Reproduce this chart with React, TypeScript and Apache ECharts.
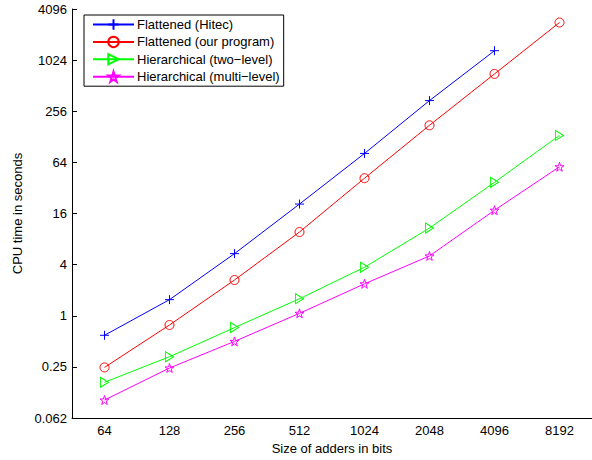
import React, { useEffect, useRef } from "react";
import * as echarts from "echarts";

const categories = ["64", "128", "256", "512", "1024", "2048", "4096", "8192"];
const hitec = [0.59, 1.55, 5.4, 20.7, 81.6, 342, 1323, null];
const ourProgram = [0.247, 0.78, 2.64, 9.7, 41.7, 175, 705, 2840];
const twoLevel = [0.165, 0.33, 0.727, 1.59, 3.73, 10.8, 37.3, 133];
const multiLevel = [0.102, 0.243, 0.5, 1.07, 2.38, 5.07, 17.5, 56.9];
const yTickLabels = ["0.062", "0.25", "1", "4", "16", "64", "256", "1024", "4096"];

const FONT = "Liberation Sans, Arial, Helvetica, sans-serif";
const FS = 13;
const PLUS = "path://M5,0 L5,10 M0,5 L10,5";
const TRI = "path://M0,0 L10,5 L0,10 Z";
const STAR =
  "path://M0,-100 L22.5,-30.9 L95.1,-30.9 L36.3,11.8 L58.8,80.9 L0,38.2 L-58.8,80.9 L-36.3,11.8 L-95.1,-30.9 L-22.5,-30.9 Z";

export default function App() {
  const ref = useRef<HTMLDivElement>(null);
  useEffect(() => {
    if (!ref.current) return;
    const chart = echarts.init(ref.current, null, { renderer: "svg" });
    const mk = (name: string, data: any[], color: string, symbol: string, size: any) => ({
      name,
      type: "line",
      data,
      symbol,
      symbolSize: size,
      showSymbol: true,
      lineStyle: { color, width: 1 },
      itemStyle: { color: "rgba(0,0,0,0)", borderColor: color, borderWidth: 1 },
      emphasis: { disabled: true },
    });
    chart.setOption({
      animation: false,
      backgroundColor: "#ffffff",
      textStyle: { fontFamily: FONT },
      grid: { left: 72, top: 9, right: 0, bottom: 40, containLabel: false },
      legend: {
        orient: "vertical",
        left: 84,
        top: 15,
        padding: [3, 4, 3, 8],
        itemWidth: 41,
        itemHeight: 13,
        itemGap: 4.4,
        backgroundColor: "#ffffff",
        borderColor: "#000000",
        borderWidth: 1,
        textStyle: { fontFamily: FONT, fontSize: FS, color: "#000", padding: [0, 0, 0, -2] },
        data: ["Flattened (Hitec)", "Flattened (our program)", "Hierarchical (two\u2212level)", "Hierarchical (multi\u2212level)"],
      },
      xAxis: {
        type: "category",
        data: categories,
        boundaryGap: true,
        name: "Size of adders in bits",
        nameLocation: "middle",
        nameGap: 21,
        nameTextStyle: { fontFamily: FONT, fontSize: FS, color: "#000" },
        axisLine: { lineStyle: { color: "#000", width: 1 } },
        axisTick: { alignWithLabel: true, inside: true, length: 5, lineStyle: { color: "#000" } },
        axisLabel: { fontFamily: FONT, fontSize: FS, color: "#000", margin: 6 },
        splitLine: { show: false },
      },
      yAxis: {
        type: "log",
        logBase: 4,
        min: 0.0625,
        max: 4096,
        splitNumber: 8,
        name: "CPU time in seconds",
        nameLocation: "middle",
        nameGap: 44,
        nameTextStyle: { fontFamily: FONT, fontSize: FS, color: "#000" },
        axisLine: { show: true, lineStyle: { color: "#000", width: 1 } },
        axisTick: { show: true, inside: true, length: 5, lineStyle: { color: "#000" } },
        axisLabel: {
          fontFamily: FONT,
          fontSize: FS,
          color: "#000",
          margin: 5,
          formatter: (v: number) => {
            const i = Math.round(Math.log(v) / Math.log(4)) + 2;
            return yTickLabels[i] ?? "";
          },
        },
        splitLine: { show: false },
        minorTick: { show: false },
      },
      series: [
        mk("Flattened (Hitec)", hitec, "#0000ff", PLUS, 9),
        mk("Flattened (our program)", ourProgram, "#ff0000", "circle", 9),
        mk("Hierarchical (two\u2212level)", twoLevel, "#00ff00", TRI, [8, 10]),
        mk("Hierarchical (multi\u2212level)", multiLevel, "#ff00ff", STAR, 9),
      ],
    });
    return () => chart.dispose();
  }, []);
  return <div ref={ref} style={{ position: "fixed", left: 0, top: 0, width: 592, height: 460 }} />;
}
